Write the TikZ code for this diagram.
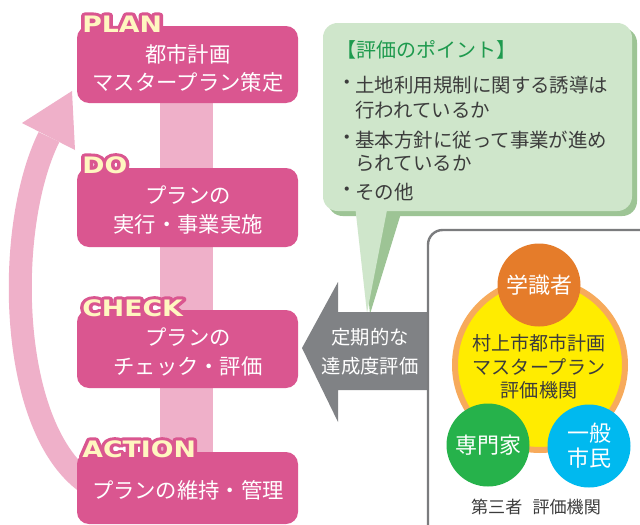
\documentclass[tikz,border=0pt]{standalone}
\usepackage{fontspec}
\setmainfont{Noto Sans CJK JP}
\newfontfamily\lblfont{DejaVu Sans}
\usetikzlibrary{calc}
\definecolor{pinkbox}{HTML}{DA5690}
\definecolor{palepink}{HTML}{EFB0C9}
\definecolor{cream}{HTML}{FFF6C0}
\definecolor{bubble}{HTML}{CFE6CB}
\definecolor{bubbleshadow}{HTML}{9DC495}
\definecolor{headgreen}{HTML}{1E9A4E}
\definecolor{arrowgray}{HTML}{808285}
\definecolor{framegray}{HTML}{7B7C7E}
\definecolor{orangec}{HTML}{E57C2A}
\definecolor{ringc}{HTML}{F7AA5B}
\definecolor{yellowc}{HTML}{FFEC00}
\definecolor{greenc}{HTML}{26B24B}
\definecolor{bluec}{HTML}{00B9EF}
\definecolor{darktext}{HTML}{3C3C3C}
\tikzset{
  pbox/.style={fill=pinkbox, rounded corners=9pt, minimum width=165.75pt, inner sep=0pt},
  ptext/.style={text=white, align=center, inner sep=0pt, font=\fontsize{16pt}{21.5pt}\selectfont},
  lbl/.style={anchor=base west, inner sep=0pt, font=\lblfont\bfseries\fontsize{17pt}{17pt}\selectfont, xscale=1.18},
  btext/.style={anchor=west, inner sep=0pt, text=darktext, font=\fontsize{14.6pt}{14.6pt}\selectfont},
  bdot/.style={anchor=center, inner sep=0pt, text=darktext, font=\fontsize{14.6pt}{14.6pt}\selectfont},
  roundc/.style={circle, inner sep=0pt, minimum size=62.25pt, text=white, align=center, font=\fontsize{16.5pt}{19pt}\selectfont},
}
\newcommand\pdcalabel[3]{%
  \node[lbl, text=pinkbox] (#1o) at (#2) {\special{pdf:literal direct 2 Tr 4.5 w 1 j}#3};
  \node[lbl, text=cream] (#1) at (#2) {\special{pdf:literal direct 0 Tr}#3};}
\begin{document}
\begin{tikzpicture}[x=0.75pt, y=-0.75pt]
\clip (0,0) rectangle (640,525);
\fill[white] (0,0) rectangle (640,525);
% vertical bar
\fill[palepink] (160,100) rectangle (213,456);
% curved arrow
\draw[palepink, line width=17.25pt] (95,488) .. controls (8,440) and (3,230) .. (49,137);
\fill[palepink] (22,123) -- (72,91) -- (75,150) -- cycle;
% pink boxes
\node[pbox, minimum height=57.75pt] (plan) at (187.5,64.5) {};
\node[pbox, minimum height=59.25pt] (do) at (187.5,207.5) {};
\node[pbox, minimum height=58.5pt] (check) at (187.5,349) {};
\node[pbox, minimum height=54pt] (action) at (187.5,488) {};
\node[ptext] (plantext) at (188,68.5) {都市計画\\マスタープラン策定};
\node[ptext] (dotext) at (188,210) {プランの\\実行・事業実施};
\node[ptext] (checktext) at (188,352) {プランの\\チェック・評価};
\node[ptext] (actiontext) at (188,490) {プランの維持・管理};
\pdcalabel{planlbl}{82,32}{PLAN}
\pdcalabel{dolbl}{82,173}{DO}
\pdcalabel{checklbl}{82,316}{CHECK}
\pdcalabel{actionlbl}{82,457}{ACTION}
% speech bubble
\fill[bubbleshadow, rounded corners=11pt] (328,28) rectangle (637,216);
\fill[bubbleshadow] (360,210) -- (370,314) -- (402,210) -- cycle;
\fill[bubble, rounded corners=11pt] (323,23) rectangle (632,211);
\fill[bubble] (355,205) -- (367,313) -- (388,205) -- cycle;
\node[anchor=west, inner sep=0pt, text=headgreen, font=\fontsize{15pt}{15pt}\selectfont] (head) at (336,50) {【評価のポイント】};
\node[bdot] (b1) at (347,85) {\makebox[0pt]{・}};
\node[btext] (l1) at (355,85) {土地利用規制に関する誘導は};
\node[btext] (l2) at (355,110) {行われているか};
\node[bdot] (b2) at (347,140) {\makebox[0pt]{・}};
\node[btext] (l3) at (355,140) {基本方針に従って事業が進め};
\node[btext] (l4) at (355,163) {られているか};
\node[bdot] (b3) at (347,192) {\makebox[0pt]{・}};
\node[btext] (l5) at (355,192) {その他};
% gray arrow
\fill[arrowgray] (302,348) -- (338,282) -- (338,312) -- (432,312) -- (432,390) -- (338,390) -- (338,422) -- cycle;
\node[text=white, align=center, inner sep=0pt, font=\fontsize{14.5pt}{21.5pt}\selectfont] (evaltext) at (370,352) {定期的な\\達成度評価};
% third party frame
\draw[framegray, line width=1.8pt, fill=white, rounded corners=11pt] (428,230) rectangle (670,560);
\node[circle, fill=yellowc, draw=ringc, line width=4.5pt, minimum size=127.5pt, inner sep=0pt] (org) at (540,365) {};
\node[text=darktext, align=center, inner sep=0pt, font=\fontsize{14.3pt}{17.5pt}\selectfont] (orgtext) at (539,367) {村上市都市計画\\マスタープラン\\評価機関};
\node[roundc, fill=orangec] (gak) at (539,285) {学識者};
\node[roundc, fill=greenc] (sen) at (488,445) {専門家};
\node[roundc, fill=bluec] (shi) at (589,446) {一般\\市民};
\node[text=darktext, inner sep=0pt, font=\fontsize{12.8pt}{14pt}\selectfont] (third) at (536,507) {第三者\hspace{0.6em}評価機関};
\end{tikzpicture}
\end{document}
